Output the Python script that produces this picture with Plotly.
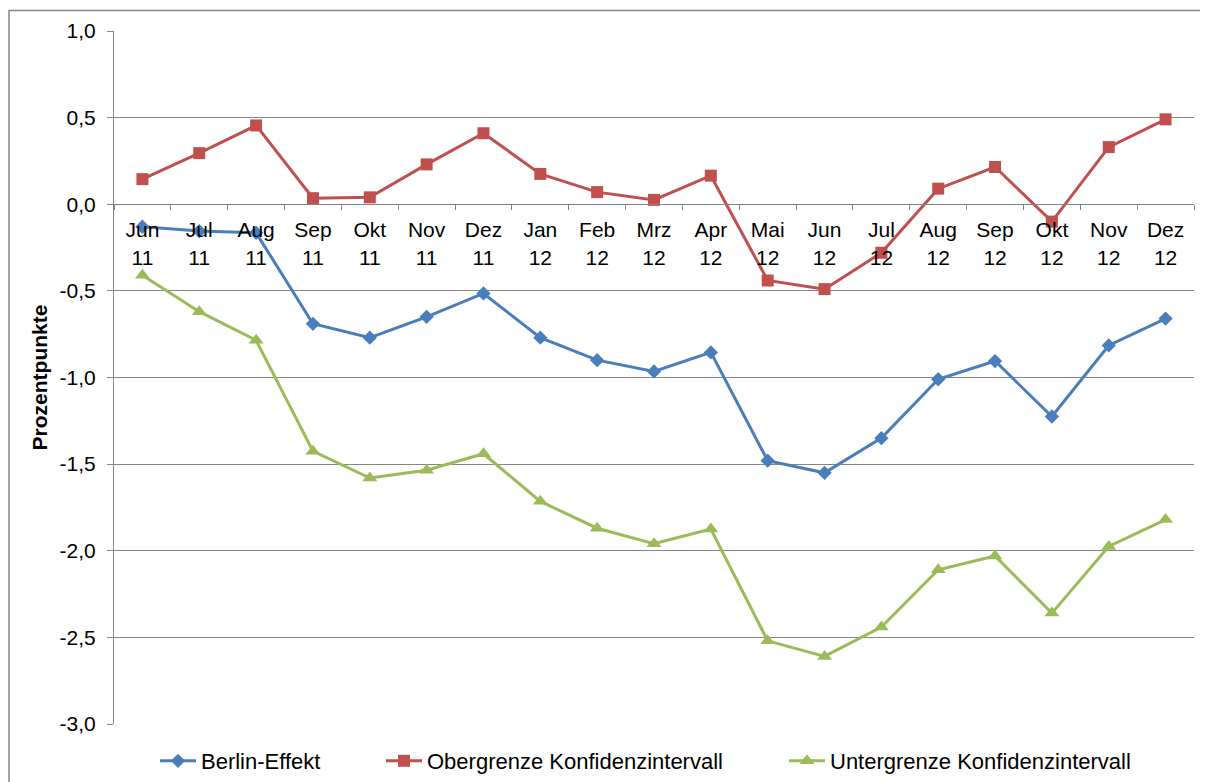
import plotly.graph_objects as go

months = ["Jun", "Jul", "Aug", "Sep", "Okt", "Nov", "Dez", "Jan", "Feb", "Mrz",
          "Apr", "Mai", "Jun", "Jul", "Aug", "Sep", "Okt", "Nov", "Dez"]
years = ["11", "11", "11", "11", "11", "11", "11", "12", "12", "12",
         "12", "12", "12", "12", "12", "12", "12", "12", "12"]
categories = [f"{m}<br>{y}" for m, y in zip(months, years)]
cat_keys = [f"{m} {y}" for m, y in zip(months, years)]

berlin_effekt = [-0.13, -0.155, -0.165, -0.69, -0.77, -0.65, -0.515, -0.77, -0.90, -0.965,
                 -0.855, -1.48, -1.55, -1.35, -1.01, -0.905, -1.225, -0.815, -0.66]
obergrenze = [0.145, 0.295, 0.455, 0.035, 0.04, 0.23, 0.41, 0.175, 0.07, 0.025,
              0.165, -0.44, -0.49, -0.28, 0.09, 0.215, -0.10, 0.33, 0.49]
untergrenze = [-0.41, -0.62, -0.785, -1.425, -1.58, -1.535, -1.44, -1.715, -1.87, -1.96,
               -1.875, -2.52, -2.61, -2.44, -2.11, -2.03, -2.36, -1.975, -1.82]

y_tickvals = [1.0, 0.5, 0.0, -0.5, -1.0, -1.5, -2.0, -2.5, -3.0]
y_ticktext = ["1,0", "0,5", "0,0", "-0,5", "-1,0", "-1,5", "-2,0", "-2,5", "-3,0"]

series_names = ["Berlin-Effekt", "Obergrenze Konfidenzintervall", "Untergrenze Konfidenzintervall"]
colors = ["#4A7EBB", "#C0504D", "#9BBB59"]
symbols = ["diamond", "square", "triangle-up"]
sizes = [11, 12, 13]
legend_ids = ["legend", "legend2", "legend3"]

# page offset (browser body margin) and target plot-area pixel box
OFF = 8
W, H = 1208 - OFF, 782 - OFF
plot_l, plot_r, plot_t, plot_b = 114, 1194, 31, 724
ml, mr, mt, mb = plot_l - OFF, 1208 - plot_r, plot_t - OFF, 782 - plot_b
pw, ph = plot_r - plot_l, plot_b - plot_t
ymin, ymax = -3.0, 1.0

def px_x(sx):
    return (sx - plot_l) / pw

def px_y(sy):
    return (plot_b - sy) / ph

fig = go.Figure()
for name, vals, col, sym, sz, lg in zip(series_names, [berlin_effekt, obergrenze, untergrenze],
                                        colors, symbols, sizes, legend_ids):
    fig.add_trace(go.Scatter(
        x=cat_keys, y=vals, name=name, mode="lines+markers",
        line=dict(color=col, width=3),
        marker=dict(symbol=sym, size=sz, color=col),
        legend=lg,
    ))

legend_text_x = [205, 431, 834]
legend_common = dict(orientation="h", yanchor="middle", xanchor="left",
                     font=dict(size=22), itemwidth=36, bgcolor="rgba(0,0,0,0)",
                     borderwidth=0)
legends = {}
for lg, tx in zip(legend_ids, legend_text_x):
    legends[lg] = dict(legend_common, x=px_x(tx - 50), y=px_y(761))

fig.update_layout(
    width=W, height=H,
    margin=dict(l=ml, r=mr, t=mt, b=mb, pad=0, autoexpand=False),
    paper_bgcolor="white", plot_bgcolor="white",
    font=dict(family="Liberation Sans, Arial, sans-serif", size=21, color="black"),
    showlegend=True,
    **legends,
    xaxis=dict(
        type="category", categoryorder="array", categoryarray=cat_keys,
        tickvals=cat_keys, ticktext=categories,
        range=[-0.5, len(cat_keys) - 0.5],
        anchor="free", position=(0 - ymin) / (ymax - ymin),
        showline=True, linecolor="#868686", linewidth=1,
        ticks="outside", ticklen=5, tickcolor="#868686", tickson="boundaries",
        ticklabelstandoff=7,
        showgrid=False, zeroline=False, automargin=False,
        tickfont=dict(size=21),
    ),
    yaxis=dict(
        range=[ymin, ymax], tickvals=y_tickvals, ticktext=y_ticktext,
        showline=True, linecolor="#868686", linewidth=1,
        ticks="outside", ticklen=6, tickcolor="#868686",
        ticklabelstandoff=7,
        showgrid=True, gridcolor="#868686", gridwidth=1,
        zeroline=False, automargin=False,
        tickfont=dict(size=21),
        title=dict(text="<b>Prozentpunkte</b>", font=dict(size=21), standoff=6),
    ),
    shapes=[dict(type="rect", xref="paper", yref="paper",
                 x0=px_x(OFF + 1), x1=1.1, y0=-0.3, y1=px_y(10.5),
                 line=dict(color="#868686", width=1.5), fillcolor="rgba(0,0,0,0)",
                 layer="below")],
)

fig.write_html("out.html")
